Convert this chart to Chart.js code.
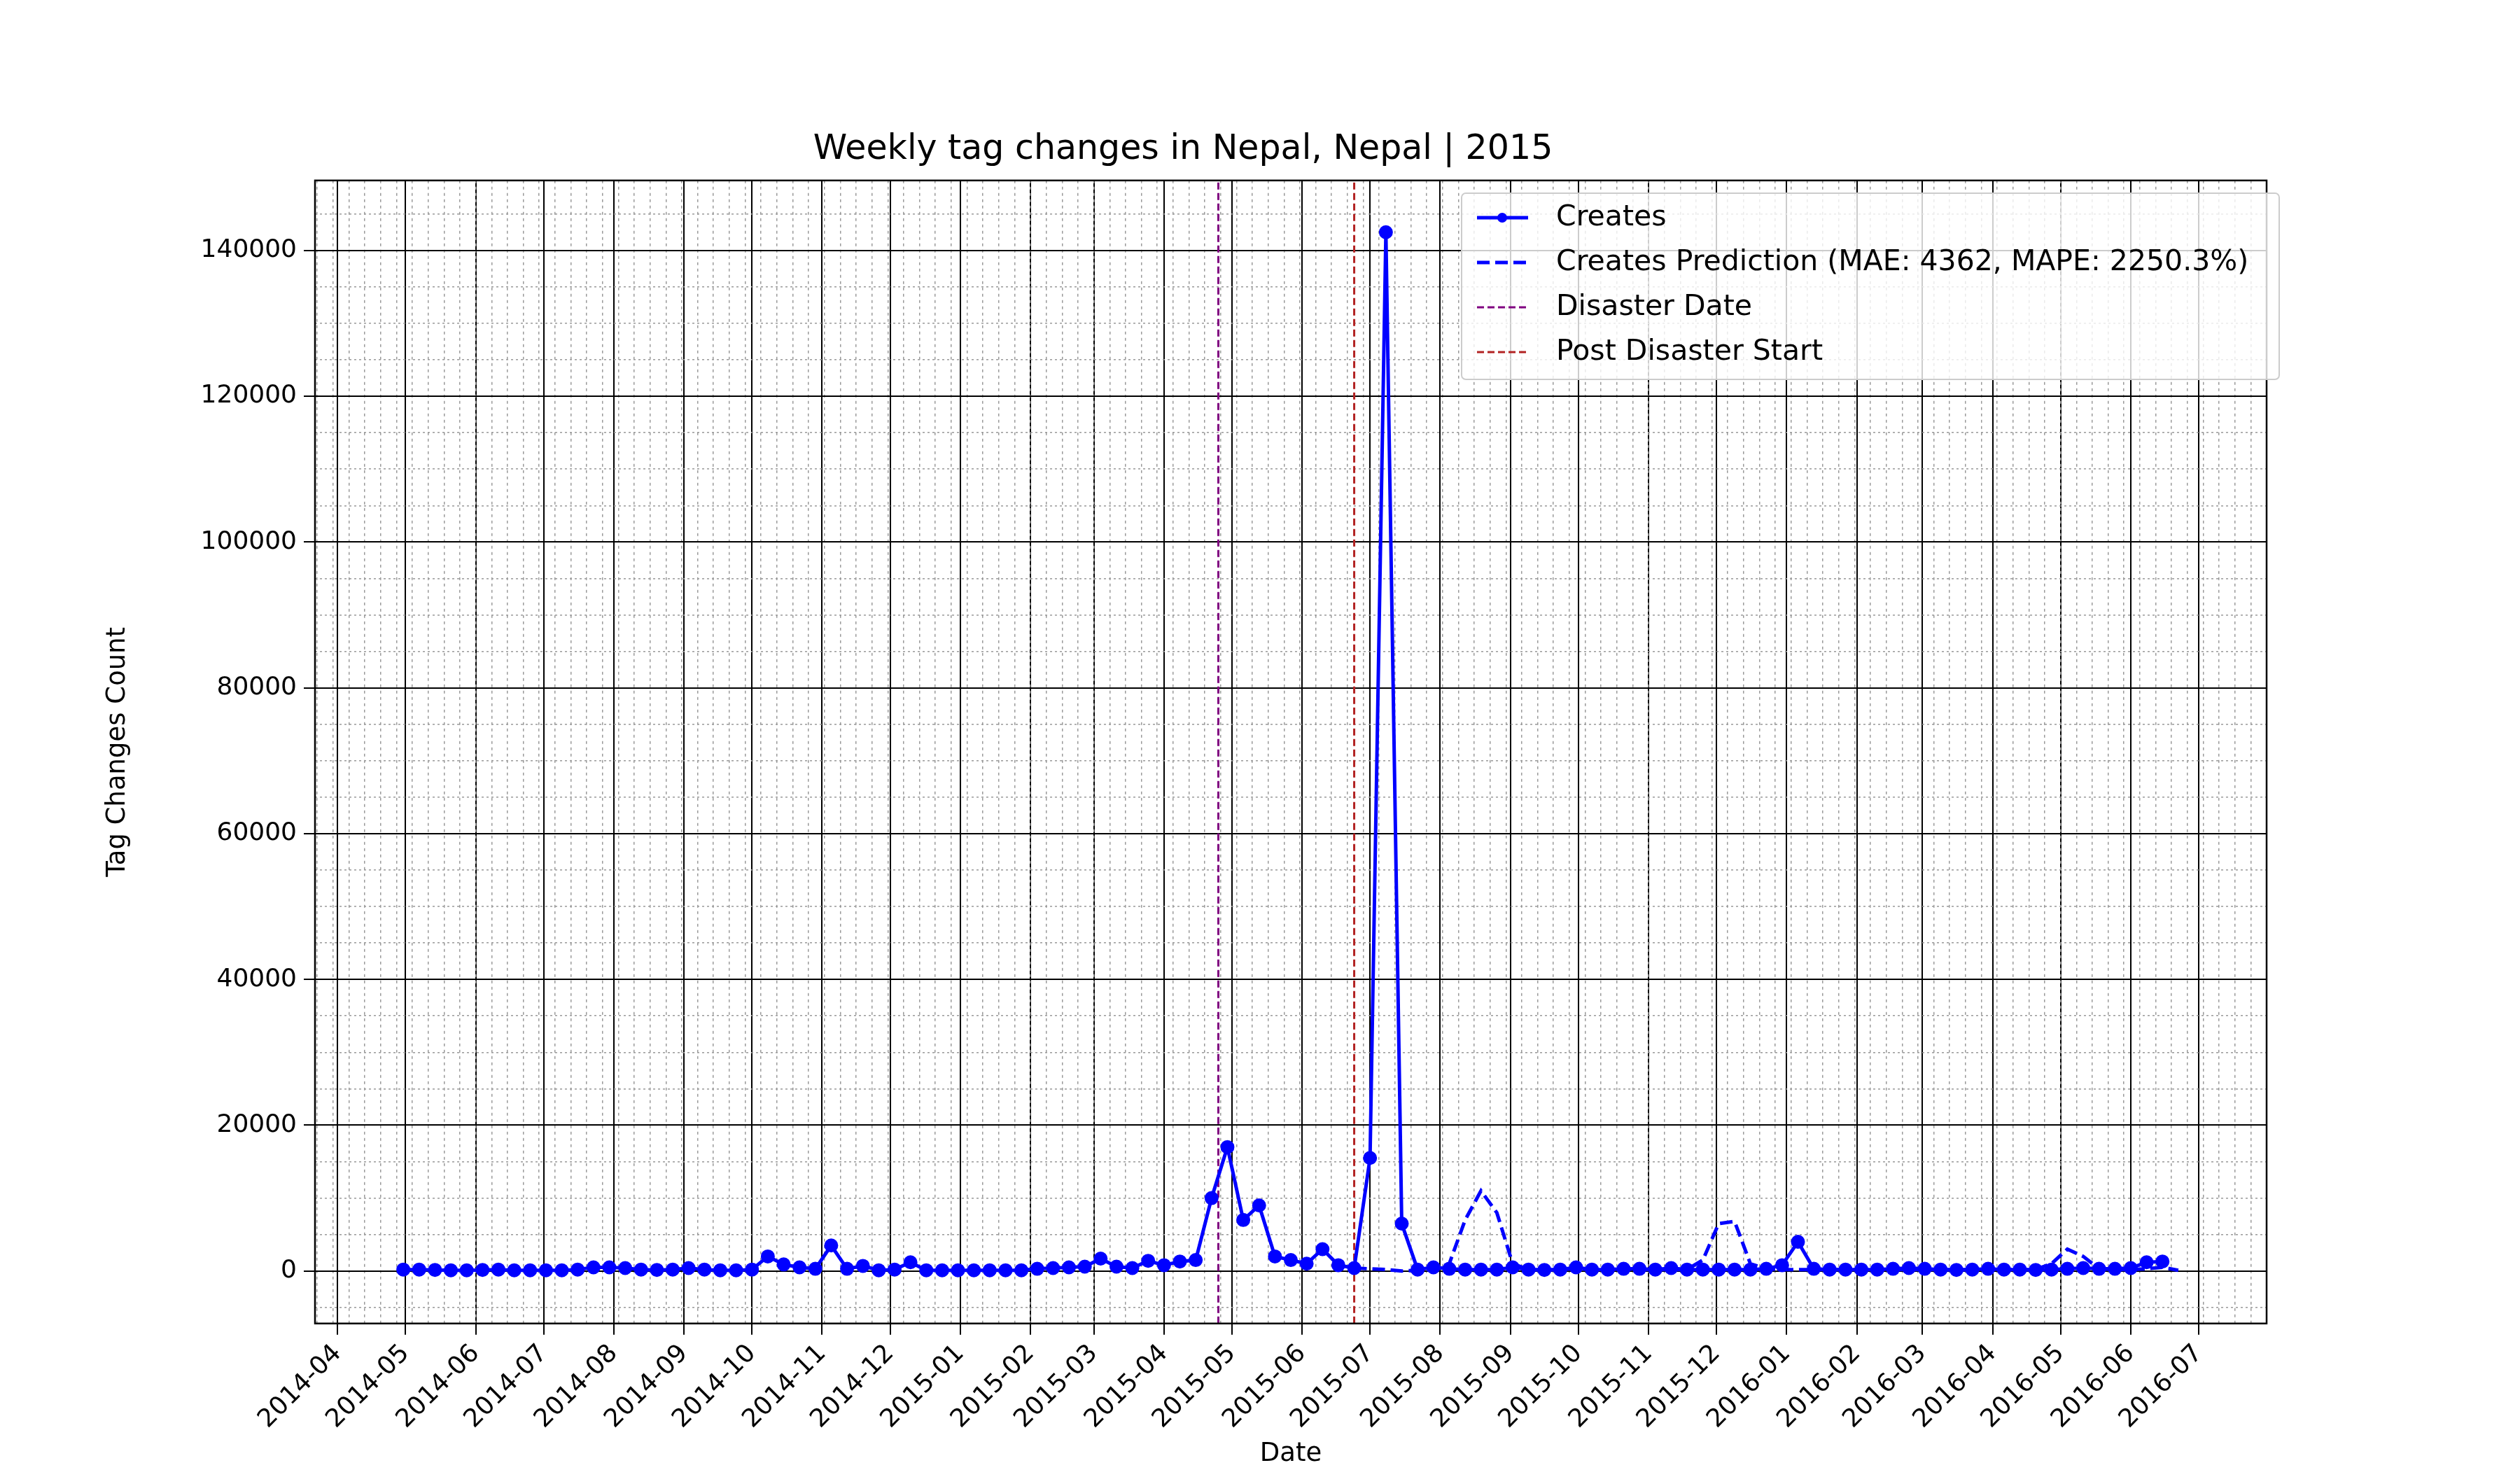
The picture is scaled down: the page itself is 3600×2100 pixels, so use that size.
<!DOCTYPE html>
<html><head><meta charset="utf-8">
<script src="https://cdn.jsdelivr.net/npm/chart.js@4.4.1/dist/chart.umd.min.js"></script>
<style>html,body{margin:0;padding:0;background:#fff}#w{width:3600px;height:2100px}</style>
</head><body><div id="w"><canvas id="c"></canvas></div>
<script>
const startDate = "2014-04-30";
const predStartDate = "2015-06-24";
const disasterDate = "2015-04-25";
const postDisasterDate = "2015-06-24";
const creates = [200,200,150,100,100,150,200,100,100,100,100,200,500,500,400,200,150,200,400,200,
100,100,200,2000,900,500,300,3500,300,700,100,200,1200,100,100,100,100,100,100,100,
300,400,500,600,1700,600,400,1400,800,1300,1500,10000,17000,7000,9000,2000,1500,1000,3000,800,
400,15500,142500,6500,200,500,300,200,200,200,500,200,150,200,500,200,200,300,300,200,
400,200,200,200,200,200,300,800,4000,300,200,200,200,200,300,400,300,200,150,200,
300,200,200,150,200,300,400,300,300,400,1200,1300];
const predictions = [400,300,200,0,100,200,1000,7000,11000,8000,1000,200,150,200,300,200,200,300,200,200,
200,200,1500,6500,6800,1000,300,200,200,200,200,200,200,200,200,200,200,200,200,200,
200,200,200,200,1000,3000,2000,300,200,200,300,500,100];
const monthLabels = ["2014-04","2014-05","2014-06","2014-07","2014-08","2014-09","2014-10","2014-11","2014-12",
"2015-01","2015-02","2015-03","2015-04","2015-05","2015-06","2015-07","2015-08","2015-09","2015-10","2015-11","2015-12",
"2016-01","2016-02","2016-03","2016-04","2016-05","2016-06","2016-07"];
const yMajor = [0,20000,40000,60000,80000,100000,120000,140000];

const DAY = 86400000, WEEK = 7*DAY;
const ms = s => Date.parse(s + "T00:00:00Z");
const t0 = ms(startDate), tp = ms(predStartDate);
const yMin = -7200, yMax = 149600;
const xMin = ms("2014-03-22"), xMax = ms("2016-07-31");
const monthMs = monthLabels.map(m => ms(m + "-01"));
const fmtMonth = v => { const d = new Date(v); return d.getUTCFullYear() + "-" + String(d.getUTCMonth()+1).padStart(2,"0"); };

const createsPts = creates.map((v,i)=>({x:t0+i*WEEK,y:v}));
const predPts = predictions.map((v,i)=>({x:tp+i*WEEK,y:v}));
const vline = d => [{x:ms(d),y:yMin},{x:ms(d),y:yMax}];

const FONT = "'DejaVu Sans', sans-serif";
const frame = {id:'frame', afterDraw(ch){
  const a = ch.chartArea, c = ch.ctx;
  c.save(); c.strokeStyle='#000'; c.lineWidth=2.5;
  c.strokeRect(a.left,a.top,a.right-a.left,a.bottom-a.top);
  const ds = ch.data.datasets.slice(0,4);
  const bx = 2088, by = 276, bw = 1168, bh = 266;
  c.fillStyle='rgba(255,255,255,0.8)'; c.strokeStyle='#ccc'; c.lineWidth=2;
  c.beginPath(); c.roundRect(bx,by,bw,bh,6); c.fill(); c.stroke();
  c.font = "41px "+FONT; c.textBaseline='middle'; c.fillStyle='#000';
  ds.forEach((d,i)=>{
    const y = by+35+i*64;
    c.strokeStyle=d.borderColor; c.lineWidth=d.borderWidth; c.setLineDash(d.borderDash||[]);
    c.beginPath(); c.moveTo(bx+22,y); c.lineTo(bx+95,y); c.stroke(); c.setLineDash([]);
    if(d.pointRadius>0){ c.fillStyle=d.borderColor; c.beginPath(); c.arc(bx+58,y,7,0,Math.PI*2); c.fill(); }
    c.fillStyle='#000'; c.fillText(d.label,bx+135,y);
  });
  c.restore();
}};

new Chart(document.getElementById('c'),{
  type:'line',
  data:{datasets:[
    {label:'Creates',data:createsPts,borderColor:'#0000ff',backgroundColor:'#0000ff',borderWidth:5,pointRadius:7.5,pointHoverRadius:7.5,order:1},
    {label:'Creates Prediction (MAE: 4362, MAPE: 2250.3%)',data:predPts,borderColor:'#0000ff',borderWidth:5,borderDash:[18,8],pointRadius:0,order:2},
    {label:'Disaster Date',data:vline(disasterDate),borderColor:'#800080',borderWidth:3,borderDash:[10,5],pointRadius:0,order:3},
    {label:'Post Disaster Start',data:vline(postDisasterDate),borderColor:'#b22222',borderWidth:3,borderDash:[10,5],pointRadius:0,order:3}
  ]},
  options:{
    responsive:true,maintainAspectRatio:false,animation:false,devicePixelRatio:1,
    layout:{padding:{left:142,right:362,top:185,bottom:0}},
    plugins:{legend:{display:false},tooltip:{enabled:false},
      title:{display:true,text:'Weekly tag changes in Nepal, Nepal | 2015',color:'#000',font:{family:FONT,size:49,weight:'normal'},padding:{top:0,bottom:14}}},
    scales:{
      x:{type:'linear',min:xMin,max:xMax,
        afterBuildTicks(s){s.ticks=monthMs.map(v=>({value:v}));},
        ticks:{callback:v=>fmtMonth(v),maxRotation:45,minRotation:45,autoSkip:false,color:'#000',font:{family:FONT,size:36},padding:6},
        grid:{color:'#000',lineWidth:2,tickLength:16,tickColor:'#000'},border:{display:false},
        title:{display:true,text:'Date',color:'#000',font:{family:FONT,size:37},padding:{top:0,bottom:0}}},
      x2:{type:'linear',position:'bottom',min:xMin,max:xMax,
        afterBuildTicks(s){const t=[];for(let v=ms("2014-03-23");v<=xMax;v+=WEEK)t.push({value:v});s.ticks=t;},
        afterFit(s){s.height=0;},
        ticks:{display:false},grid:{color:'#999',lineWidth:1.5,drawTicks:false},border:{display:false,dash:[4,5]}},
      y:{min:yMin,max:yMax,
        afterBuildTicks(s){s.ticks=yMajor.map(v=>({value:v}));},
        afterFit(s){s.width=308;},
        ticks:{color:'#000',font:{family:FONT,size:36},padding:10,callback:v=>String(v)},
        grid:{color:'#000',lineWidth:2,tickLength:16,tickColor:'#000'},border:{display:false},
        title:{display:true,text:'Tag Changes Count',color:'#000',font:{family:FONT,size:37},padding:{bottom:10}}},
      y2:{position:'left',min:yMin,max:yMax,
        afterBuildTicks(s){const t=[];for(let v=-5000;v<=yMax;v+=5000)if(v%20000)t.push({value:v});s.ticks=t;},
        afterFit(s){s.width=0;},
        ticks:{display:false},grid:{color:'#999',lineWidth:1.5,drawTicks:false},border:{display:false,dash:[3,4]}}
    }
  },
  plugins:[frame]
});
</script></body></html>
